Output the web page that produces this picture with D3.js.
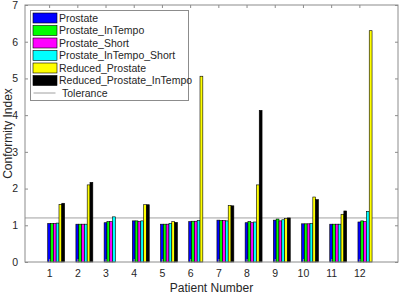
<!DOCTYPE html>
<html>
<head>
<meta charset="utf-8">
<script src="https://cdn.jsdelivr.net/npm/d3@7"></script>
<style>
  body { margin: 0; background: #fff; }
  svg { display: block; font-family: "Liberation Sans", Arial, sans-serif; }
</style>
</head>
<body>
<div id="chart"></div>
<script>
var svgWidth = 400;
var svgHeight = 295;

// patients on the x axis
var patients = [1, 2, 3, 4, 5, 6, 7, 8, 9, 10, 11, 12];
var seriesNames = ["Prostate", "Prostate_InTempo", "Prostate_Short", "Prostate_InTempo_Short", "Reduced_Prostate", "Reduced_Prostate_InTempo"];
var seriesColors = ["#0000ff", "#00ff00", "#ff00ff", "#00ffff", "#ffff00", "#000000"];

// conformity index per series (null = no bar)
var prostate          = [1.05, 1.03, 1.07, 1.12, 1.03, 1.10, 1.14, 1.07, 1.14, 1.04, 1.03, 1.09];
var prostateInTempo   = [1.05, 1.03, 1.10, 1.12, 1.03, 1.11, 1.13, 1.10, 1.17, 1.04, 1.03, 1.12];
var prostateShort     = [1.05, 1.03, 1.10, 1.10, 1.03, 1.11, 1.13, 1.07, 1.12, 1.04, 1.03, 1.10];
var prostateInTShort  = [1.06, 1.03, 1.23, 1.12, 1.05, 1.13, 1.12, 1.09, 1.15, 1.05, 1.03, 1.38];
var reducedProstate   = [1.57, 2.10, null, 1.56, 1.10, 5.06, 1.54, 2.10, 1.18, 1.77, 1.30, 6.30];
var reducedInTempo    = [1.60, 2.17, null, 1.56, 1.08, null, 1.53, 4.13, 1.20, 1.70, 1.39, null];
var tolerance = 1.2;

var yTicks = [0, 1, 2, 3, 4, 5, 6, 7];

var allSeries = [prostate, prostateInTempo, prostateShort, prostateInTShort, reducedProstate, reducedInTempo];

var margin = { top: 5, right: 2, bottom: 33, left: 25 };
var chartWidth = svgWidth - margin.left - margin.right;
var chartHeight = svgHeight - margin.top - margin.bottom;

var svg = d3.select("#chart")
  .append("svg")
  .attr("width", svgWidth)
  .attr("height", svgHeight);

var chartGroup = svg.append("g")
  .attr("transform", `translate(${margin.left}, ${margin.top})`);

var xScale = d3.scaleLinear()
  .domain([0.145, 13.37])
  .range([0, chartWidth]);

var yScale = d3.scaleLinear()
  .domain([0, 7])
  .range([chartHeight, 0]);

var barW = 0.1;   // in patient units
var groupStart = -0.05;

var axisColor = "#8c8c8c";
var textColor = "#262626";

// tolerance line behind the bars
chartGroup.append("line")
  .attr("x1", 0)
  .attr("x2", chartWidth)
  .attr("y1", yScale(tolerance))
  .attr("y2", yScale(tolerance))
  .attr("stroke", "#a0a0a0")
  .attr("stroke-width", 1);

// bars
allSeries.forEach(function(values, si) {
  var rows = patients.map((p, i) => ({ p: p, v: values[i] })).filter(d => d.v !== null);
  chartGroup.append("g")
    .selectAll("rect")
    .data(rows)
    .enter()
    .append("rect")
      .attr("x", d => xScale(d.p + groupStart + si * barW))
      .attr("y", d => yScale(d.v))
      .attr("width", xScale(barW) - xScale(0))
      .attr("height", d => yScale(0) - yScale(d.v))
      .attr("fill", seriesColors[si])
      .attr("stroke", "#000")
      .attr("stroke-width", 0.6);
});

// axes (MATLAB style: ticks inside, box around)
var bottomAxis = d3.axisBottom(xScale).tickValues(patients).tickSize(-3).tickPadding(8);
var topAxis = d3.axisTop(xScale).tickValues(patients).tickSize(-3).tickFormat("");
var leftAxis = d3.axisLeft(yScale).tickValues(yTicks).tickSize(-3).tickPadding(7).tickFormat(d3.format("d"));
var rightAxis = d3.axisRight(yScale).tickValues(yTicks).tickSize(-3).tickFormat("");

function styleAxis(g) {
  g.select(".domain").attr("stroke", axisColor);
  g.selectAll(".tick line").attr("stroke", axisColor);
  g.selectAll(".tick text").attr("fill", textColor).style("font-size", "10.5px");
}

chartGroup.append("g")
  .attr("transform", `translate(0, ${chartHeight})`)
  .call(bottomAxis).call(styleAxis);
chartGroup.append("g").call(topAxis).call(styleAxis);
chartGroup.append("g").call(leftAxis).call(styleAxis);
chartGroup.append("g")
  .attr("transform", `translate(${chartWidth}, 0)`)
  .call(rightAxis).call(styleAxis);
chartGroup.selectAll(".domain").attr("d", null);
chartGroup.append("rect")
  .attr("width", chartWidth)
  .attr("height", chartHeight)
  .attr("fill", "none")
  .attr("stroke", axisColor);

// axis labels
chartGroup.append("text")
  .attr("x", chartWidth / 2)
  .attr("y", chartHeight + 30)
  .attr("text-anchor", "middle")
  .attr("fill", textColor)
  .style("font-size", "12px")
  .text("Patient Number");

chartGroup.append("text")
  .attr("transform", "rotate(-90)")
  .attr("x", -chartHeight / 2)
  .attr("y", -13.5)
  .attr("text-anchor", "middle")
  .attr("fill", textColor)
  .style("font-size", "12px")
  .text("Conformity Index");

// legend
var legend = chartGroup.append("g")
  .attr("transform", "translate(5.5, 5.5)");

legend.append("rect")
  .attr("width", 158)
  .attr("height", 90)
  .attr("fill", "#fff")
  .attr("stroke", axisColor);

var rowH = 12.5;
seriesNames.forEach(function(name, i) {
  legend.append("rect")
    .attr("x", 2.5)
    .attr("y", 2.5 + i * rowH)
    .attr("width", 24)
    .attr("height", 10)
    .attr("fill", seriesColors[i])
    .attr("stroke", "#000")
    .attr("stroke-width", 0.6);
  legend.append("text")
    .attr("x", 28.5)
    .attr("y", 7.5 + i * rowH)
    .attr("dy", "0.35em")
    .attr("fill", textColor)
    .style("font-size", "10.5px")
    .text(name);
});

legend.append("line")
  .attr("x1", 3)
  .attr("x2", 25)
  .attr("y1", 7.5 + 6 * rowH)
  .attr("y2", 7.5 + 6 * rowH)
  .attr("stroke", "#a0a0a0")
  .attr("stroke-width", 1);
legend.append("text")
  .attr("x", 31.5)
  .attr("y", 7.5 + 6 * rowH)
  .attr("dy", "0.35em")
  .attr("fill", textColor)
  .style("font-size", "10.5px")
  .text("Tolerance");
</script>
</body>
</html>
